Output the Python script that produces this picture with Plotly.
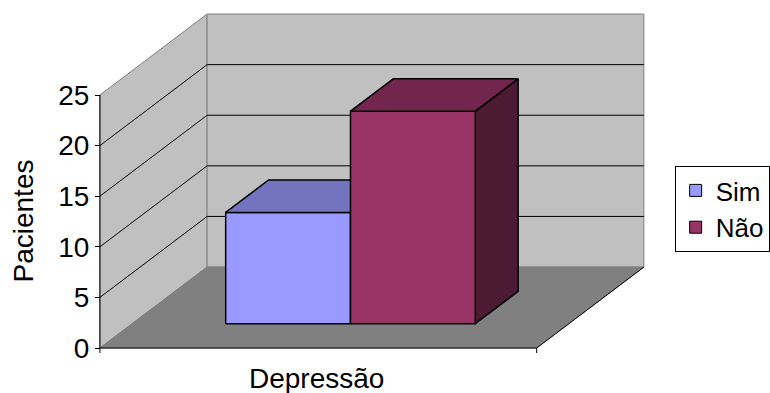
import plotly.graph_objects as go

# ---- data -------------------------------------------------------------
category = "Depressão"
series_names = ["Sim", "Não"]
values = [11, 21]
y_ticks = [0, 5, 10, 15, 20, 25]
y_title = "Pacientes"

front_colors = ["#9999FF", "#993366"]
top_colors = ["#7373BF", "#73264D"]
side_colors = ["#4D4D80", "#4D1A33"]

# ---- 3-D box geometry (x in bar widths, y in axis units, z = depth 0..1)
GAP = 0.75                 # gap on each side of the pair of bars
FLOOR_W = len(values) + 2 * GAP
DEPTH_DX = 0.859           # oblique shift of the full depth, x units
DEPTH_DY = 8.0             # oblique shift of the full depth, y units
BAR_Z = (0.3, 0.7)         # bars sit in the middle of the floor depth
Y_TOP = max(y_ticks)

PX_PER_X = 125.714
PX_PER_Y = 10.12
W, H = 770, 393
M_L = 90
ORIGIN_PX = (100, 348)     # pixel of (x=0, y=0, z=0)

FONT = "Liberation Sans, Arial, sans-serif"
AXIS_FONT = 28


def proj(x, y, z):
    return x + z * DEPTH_DX, y + z * DEPTH_DY


def poly(points):
    xs, ys = zip(*[proj(*p) for p in points])
    return list(xs) + [xs[0]], list(ys) + [ys[0]]


def path(points):
    xs, ys = zip(*[proj(*p) for p in points])
    return list(xs), list(ys)


fig = go.Figure()


def add_face(points, fill, line_color, line_width):
    xs, ys = poly(points)
    fig.add_trace(go.Scatter(
        x=xs, y=ys, mode="lines", fill="toself", fillcolor=fill,
        line=dict(color=line_color, width=line_width),
        hoverinfo="skip", showlegend=False))


def add_line(points, color, width):
    xs, ys = path(points)
    fig.add_trace(go.Scatter(
        x=xs, y=ys, mode="lines", line=dict(color=color, width=width),
        hoverinfo="skip", showlegend=False))


# walls and floor
add_face([(0, 0, 0), (0, Y_TOP, 0), (0, Y_TOP, 1), (0, 0, 1)], "#C0C0C0", "#808080", 1)
add_face([(0, 0, 1), (FLOOR_W, 0, 1), (FLOOR_W, Y_TOP, 1), (0, Y_TOP, 1)], "#C0C0C0", "#808080", 1)
add_face([(0, 0, 0), (FLOOR_W, 0, 0), (FLOOR_W, 0, 1), (0, 0, 1)], "#808080", "#808080", 1)

# gridlines across the side and back walls
for v in y_ticks[1:-1]:
    add_line([(0, v, 0), (0, v, 1), (FLOOR_W, v, 1)], "black", 1)

# floor right edge
add_line([(FLOOR_W, 0, 0), (FLOOR_W, 0, 1)], "black", 1)

# value axis line and category axis line with its end ticks
add_line([(0, 0, 0), (0, Y_TOP, 0)], "black", 1)
tick_len = 5 / PX_PER_Y
add_line([(0, -tick_len, 0), (0, 0, 0), (FLOOR_W, 0, 0), (FLOOR_W, -tick_len, 0)], "black", 1)

# bars
z0, z1 = BAR_Z
for i, h in enumerate(values):
    x0 = GAP + i
    x1 = x0 + 1
    add_face([(x1, 0, z0), (x1, 0, z1), (x1, h, z1), (x1, h, z0)], side_colors[i], "black", 1.5)
    add_face([(x0, 0, z0), (x1, 0, z0), (x1, h, z0), (x0, h, z0)], front_colors[i], "black", 1.5)
    add_face([(x0, h, z0), (x1, h, z0), (x1, h, z1), (x0, h, z1)], top_colors[i], "black", 1.5)

# legend entries
for name, color in zip(series_names, front_colors):
    fig.add_trace(go.Scatter(
        x=[None], y=[None], mode="markers", name=name,
        marker=dict(symbol="square", size=12, color=color,
                    line=dict(color="black", width=1))))

plot_w = W - M_L
x_min = (M_L - ORIGIN_PX[0]) / PX_PER_X
x_max = x_min + plot_w / PX_PER_X
y_min = -(H - ORIGIN_PX[1]) / PX_PER_Y
y_max = ORIGIN_PX[1] / PX_PER_Y

fig.update_layout(
    width=W, height=H,
    margin=dict(l=M_L, r=0, t=0, b=0),
    paper_bgcolor="white", plot_bgcolor="white",
    font=dict(family=FONT, size=AXIS_FONT, color="black"),
    xaxis=dict(range=[x_min, x_max], visible=False, fixedrange=True),
    yaxis=dict(
        range=[y_min, y_max], tickvals=y_ticks, ticks="outside", ticklen=5,
        tickcolor="black", tickwidth=1, showgrid=False, zeroline=False,
        showline=False, anchor="free",
        position=(ORIGIN_PX[0] - M_L) / plot_w,
        tickfont=dict(family=FONT, size=AXIS_FONT, color="black"), fixedrange=True),
    legend=dict(
        x=(679 - M_L) / plot_w, y=1 - 166 / H, xanchor="left", yanchor="top",
        bgcolor="white", bordercolor="black", borderwidth=1,
        font=dict(family=FONT, size=26, color="black"),
        itemwidth=30, traceorder="normal"),
    showlegend=True,
    annotations=[
        dict(text=y_title, x=(22 - M_L) / plot_w, y=1 - 221 / H,
             xref="paper", yref="paper", showarrow=False, textangle=-90,
             xanchor="center", yanchor="middle",
             font=dict(family=FONT, size=AXIS_FONT, color="black")),
        dict(text=category, x=(318 - M_L) / plot_w, y=1 - 378 / H,
             xref="paper", yref="paper", showarrow=False,
             xanchor="center", yanchor="middle",
             font=dict(family=FONT, size=AXIS_FONT, color="black")),
    ],
)

fig.write_html("out.html")
